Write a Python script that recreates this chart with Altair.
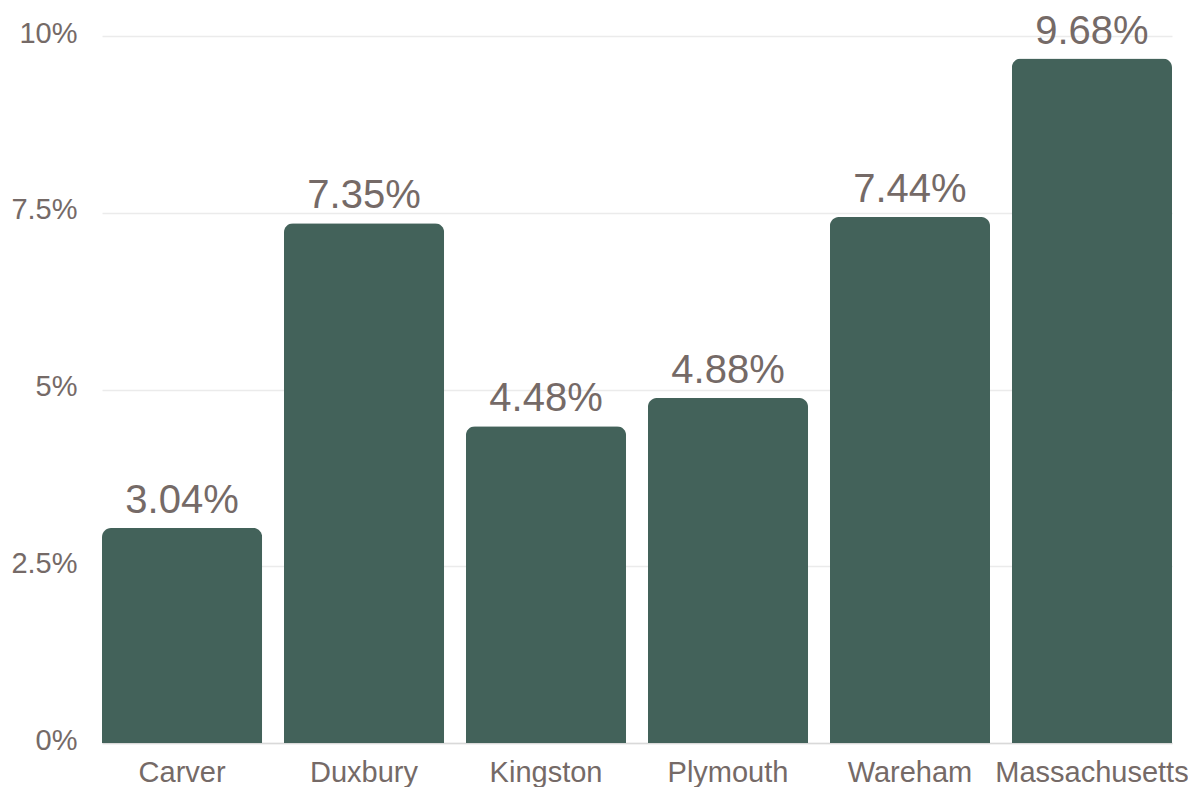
import altair as alt
import pandas as pd

towns = ["Carver", "Duxbury", "Kingston", "Plymouth", "Wareham", "Massachusetts"]
values = [3.04, 7.35, 4.48, 4.88, 7.44, 9.68]
y_ticks = [0, 2.5, 5, 7.5, 10]

df = pd.DataFrame({"town": towns, "value": values})
df["label"] = [f"{v:.2f}%" for v in values]

text_color = "#756a67"
bar_color = "#43625a"
font = "Liberation Sans"

x = alt.X("town:N", sort=towns, title=None,
          scale=alt.Scale(paddingInner=0.12, paddingOuter=0),
          axis=alt.Axis(labelAngle=0, labelFontSize=29, labelColor=text_color, labelFont=font,
                        ticks=False, domain=True, domainColor="#d9d9d9", domainWidth=1.5,
                        labelPadding=15, labelLimit=400, labelOverlap=False, grid=False))
y = alt.Y("value:Q", title=None,
          scale=alt.Scale(domain=[0, 10], nice=False),
          axis=alt.Axis(values=y_ticks, labelExpr="datum.value + '%'", labelFontSize=29,
                        labelColor=text_color, labelFont=font, ticks=False, domain=False,
                        gridColor="#ebebeb", gridWidth=1.5, labelPadding=25, labelOffset=-3))

bars = alt.Chart(df).mark_bar(color=bar_color, cornerRadiusTopLeft=9, cornerRadiusTopRight=9).encode(x=x, y=y)
labels = alt.Chart(df).mark_text(baseline="alphabetic", dy=-15, fontSize=40, color=text_color, font=font).encode(
    x=alt.X("town:N", sort=towns), y="value:Q", text="label:N")

chart = (bars + labels).properties(
    width=1070, height=707,
    background="white",
    autosize=alt.AutoSizeParams(type="none"),
    padding={"left": 94, "top": 28, "right": 16, "bottom": 50},
).configure_view(stroke=None)

chart.save("out.html", embed_options={"renderer": "svg", "actions": False})
